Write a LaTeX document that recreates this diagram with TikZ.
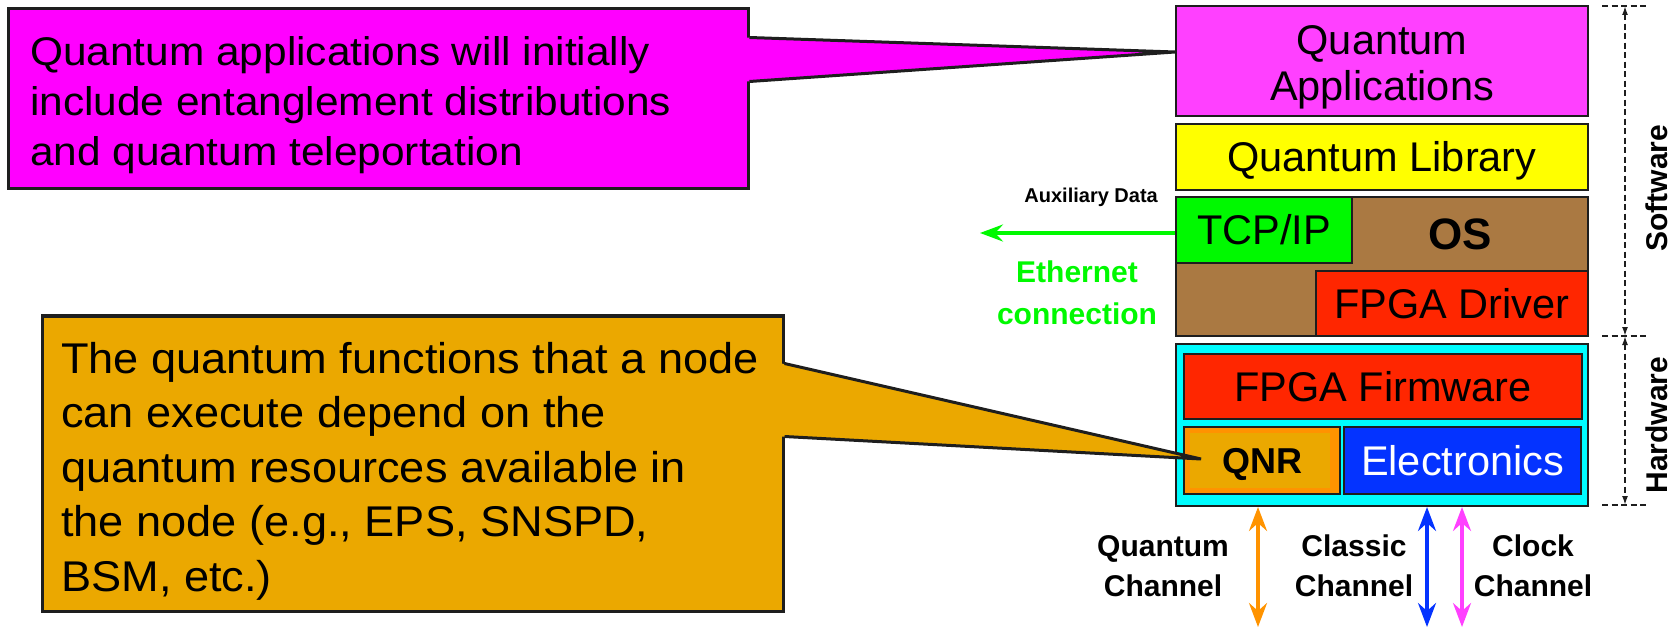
\documentclass[tikz,border=0pt]{standalone}
\usepackage{fontspec}
\setmainfont{Liberation Sans}
\newfontfamily\calloutfontA[FakeStretch=1.06]{Liberation Sans}
\newfontfamily\calloutfontB[FakeStretch=1.05]{Liberation Sans}
\usetikzlibrary{arrows.meta}

\definecolor{edge}{HTML}{1E1E1E}
\definecolor{calmag}{HTML}{FF00FF}
\definecolor{appmag}{HTML}{FF40FF}
\definecolor{libyellow}{HTML}{FFFF00}
\definecolor{osbrown}{HTML}{AA7942}
\definecolor{netgreen}{HTML}{00F900}
\definecolor{fpgared}{HTML}{FF2600}
\definecolor{hwcyan}{HTML}{00FDFF}
\definecolor{elecblue}{HTML}{0433FF}
\definecolor{qnrgold}{HTML}{EBA800}
\definecolor{qnrband}{HTML}{FF9300}
\definecolor{chorange}{HTML}{FF9300}

\begin{document}
\begin{tikzpicture}[x=1pt,y=-1pt,
  layer/.style={draw=edge, line width=2pt, inner sep=0pt},
  txt40/.style={font=\fontsize{41.5}{47}\selectfont, text height=29.7pt, text depth=0pt},
  callbody/.style={draw=edge, line width=3pt, inner sep=0pt},
  callline/.style={draw=edge, line width=3pt, line join=miter},
  chlabel/.style={font=\bfseries\fontsize{30}{40}\selectfont, align=center, anchor=north, inner sep=0pt},
  chan/.style={line width=3.5pt, {Stealth[length=24pt,width=18pt,inset=8pt]}-{Stealth[length=24pt,width=18pt,inset=8pt]}},
  bracket/.style={draw=edge, line width=1.6pt, dash pattern=on 6pt off 3.5pt},
  brarrow/.style={bracket, {Latex[length=9pt,width=6pt]}-{Latex[length=9pt,width=6pt]}},
  side/.style={font=\bfseries\fontsize{30}{36}\selectfont, rotate=90, inner sep=0pt}
]
\useasboundingbox (0,0) rectangle (1673,628);

% ---- software stack ----
\node[layer, fill=appmag, minimum width=412pt, minimum height=110pt] (qapp) at (1382,61) {};
\node[inner sep=0pt, align=center, font=\fontsize{41.5}{46}\selectfont] (qapplbl)
  at ([yshift=-6.5pt]qapp.center) {Quantum\\Applications};
\node[layer, fill=libyellow, minimum width=412pt, minimum height=66pt, txt40] (qlib) at (1382,157) {Quantum Library};
\node[layer, fill=osbrown, minimum width=412pt, minimum height=139pt] (os) at (1382,266.5) {};
\node[layer, fill=netgreen, minimum width=176pt, minimum height=66pt, txt40] (tcp) at (1264,230) {TCP/IP};
\node[layer, fill=fpgared, minimum width=272pt, minimum height=65pt, txt40] (drv) at (1452,303.5) {FPGA Driver};
\node[inner sep=0pt, font=\bfseries\fontsize{44}{44}\selectfont, text height=31.5pt, text depth=0pt] (oslbl) at (1460,234) {OS};

% ---- hardware stack ----
\node[layer, fill=hwcyan, minimum width=412pt, minimum height=162pt] (hw) at (1382,425) {};
\node[layer, fill=fpgared, minimum width=398pt, minimum height=65pt, txt40] (fw) at (1383,386.5) {FPGA Firmware};
\node[layer, fill=qnrband, minimum width=156pt, minimum height=67pt,
      font=\bfseries\fontsize{36}{36}\selectfont, text height=25.8pt, text depth=0pt,
      path picture={\fill[qnrgold] ([xshift=6pt,yshift=-6pt]path picture bounding box.north west)
                     rectangle ([xshift=-10pt,yshift=6pt]path picture bounding box.south east);}]
      (qnr) at (1262,460.5) {QNR};
\node[layer, fill=elecblue, text=white, minimum width=237pt, minimum height=67pt, txt40] (elec) at (1462.5,460.5) {Electronics};

% ---- software / hardware brackets ----
\coordinate (brtop) at (1625,6);
\coordinate (brmid) at (1625,336);
\coordinate (brbot) at (1625,505);
\draw[bracket] ([xshift=-23pt]brtop) -- ([xshift=22pt]brtop);
\draw[bracket] ([xshift=-23pt]brmid) -- ([xshift=22pt]brmid);
\draw[bracket] ([xshift=-23pt]brbot) -- ([xshift=22pt]brbot);
\draw[brarrow] (brtop) -- (brmid);
\draw[brarrow] (brmid) -- (brbot);
\node[side] (swlbl) at (1657,188) {Software};
\node[side] (hwlbl) at (1657,425) {Hardware};

% ---- ethernet link ----
\coordinate (ethend) at (980,233);
\draw[netgreen, line width=4pt, -{Stealth[length=23pt,width=17pt,inset=8pt]}] (tcp.west |- ethend) -- (ethend);
\node[anchor=base east, inner sep=0pt, font=\bfseries\fontsize{20}{24}\selectfont] (aux) at (1158,203) {Auxiliary Data};
\node[anchor=north, inner sep=0pt, align=center, text=netgreen,
      font=\bfseries\fontsize{30}{42}\selectfont] (eth) at (1077,261) {Ethernet\\connection};

% ---- channels ----
\coordinate (qch) at (1258,627);
\coordinate (cch) at (1427,627);
\coordinate (kch) at (1462,627);
\draw[chan, chorange] (hw.south -| qch) -- (qch);
\draw[chan, elecblue] (hw.south -| cch) -- (cch);
\draw[chan, appmag] (hw.south -| kch) -- (kch);
\node[chlabel] (qchl) at (1163,535) {Quantum\\Channel};
\node[chlabel] (cchl) at (1354,535) {Classic\\Channel};
\node[chlabel] (kchl) at (1533,535) {Clock\\Channel};

% ---- callout on the applications layer ----
\coordinate (tipA) at ([yshift=9pt]qapp.west);
\node[callbody, fill=calmag, minimum width=740pt, minimum height=180pt] (calA) at (378,99) {};
\fill[calmag] ([xshift=-3pt,yshift=-30pt]calA.north east) -- (tipA) -- ([xshift=-3pt,yshift=-74pt]calA.north east) -- cycle;
\draw[callline] ([yshift=-30pt]calA.north east) -- (tipA) -- ([yshift=-74pt]calA.north east);
\node[anchor=north west, inner sep=0pt, align=left,
      font=\calloutfontA\fontsize{40}{50}\selectfont] (txtA) at (30,36)
  {Quantum applications will initially\\include entanglement distributions\\and quantum teleportation};

% ---- callout on the QNR block ----
\coordinate (tipB) at ([xshift=18pt,yshift=1.5pt]qnr.west);
\node[callbody, fill=qnrgold, minimum width=741pt, minimum height=295pt] (calB) at (412.5,463.5) {};
\fill[qnrgold] ([xshift=-3pt,yshift=-49pt]calB.north east) -- (tipB) -- ([xshift=-3pt,yshift=-122pt]calB.north east) -- cycle;
\draw[callline] ([yshift=-49pt]calB.north east) -- (tipB) -- ([yshift=-122pt]calB.north east);
\node[anchor=north west, inner sep=0pt, align=left,
      font=\calloutfontB\fontsize{43}{54.5}\selectfont] (txtB) at (61,342)
  {The quantum functions that a node\\can execute depend on the\\quantum resources available in\\the node (e.g., EPS, SNSPD,\\BSM, etc.)};
\end{tikzpicture}
\end{document}
